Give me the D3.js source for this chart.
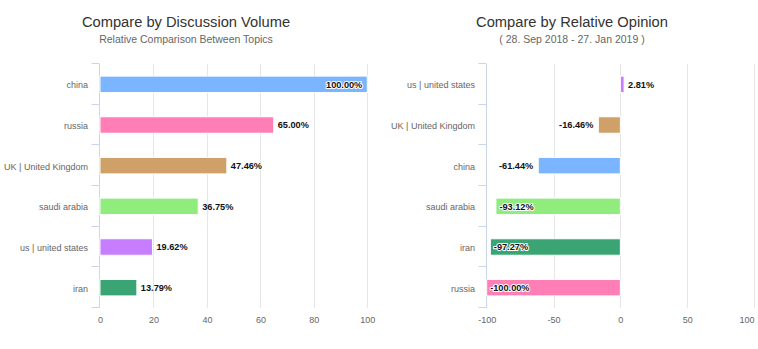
<!DOCTYPE html>
<html>
<head>
<meta charset="utf-8">
<script src="https://cdn.jsdelivr.net/npm/d3@7"></script>
<style>
  html, body { margin: 0; padding: 0; background: #fff; }
  svg { display: block; font-family: "Liberation Sans", Arial, Helvetica, sans-serif; }
</style>
</head>
<body>
<svg id="chart" width="758" height="349"></svg>
<script>
// ---- Data ----
const volumeCategories = ["china", "russia", "UK | United Kingdom", "saudi arabia", "us | united states", "iran"];
const volumeValues = [100.00, 65.00, 47.46, 36.75, 19.62, 13.79];
const volumeTicks = [0, 20, 40, 60, 80, 100];

const opinionCategories = ["us | united states", "UK | United Kingdom", "china", "saudi arabia", "iran", "russia"];
const opinionValues = [2.81, -16.46, -61.44, -93.12, -97.27, -100.00];
const opinionTicks = [-100, -50, 0, 50, 100];

const topicColors = {
  "china": "#7cb5ff",
  "russia": "#ff7eb6",
  "UK | United Kingdom": "#cfa068",
  "saudi arabia": "#90ed7d",
  "us | united states": "#c77dff",
  "iran": "#3ba474"
};

const titles = [
  { title: "Compare by Discussion Volume", subtitle: "Relative Comparison Between Topics" },
  { title: "Compare by Relative Opinion", subtitle: "( 28. Sep 2018 - 27. Jan 2019 )" }
];

// ---- Drawing ----
const svg = d3.select("#chart");
const FONT = "Liberation Sans, Arial, sans-serif";

function drawPanel(cfg) {
  const g = svg.append("g");
  const x = d3.scaleLinear().domain(cfg.domain).range([cfg.left, cfg.right]);
  const y = d3.scaleBand().domain(cfg.categories).range([cfg.top, cfg.bottom])
    .paddingInner(0.595).paddingOuter(0.2975);
  const step = y.step();

  // title
  g.append("text").attr("x", cfg.titleX).attr("y", 27).attr("text-anchor", "middle")
    .attr("font-size", 14.7).attr("fill", "#333").text(cfg.title);
  g.append("text").attr("x", cfg.titleX).attr("y", 43.3).attr("text-anchor", "middle")
    .attr("font-size", 10.5).attr("fill", "#666").text(cfg.subtitle);

  // grid
  g.append("g").selectAll("line").data(cfg.ticks.filter(t => t !== cfg.domain[0])).join("line")
    .attr("x1", d => Math.round(x(d)) + 0.5).attr("x2", d => Math.round(x(d)) + 0.5)
    .attr("y1", cfg.top).attr("y2", cfg.bottom)
    .attr("stroke", "#e6e6e6").attr("stroke-width", 1);

  // x axis labels
  const xAxis = d3.axisBottom(x).tickValues(cfg.ticks).tickSize(0).tickPadding(0)
    .tickFormat(d => String(d));
  const xg = g.append("g").attr("transform", `translate(0,323.3)`).call(xAxis);
  xg.select(".domain").remove();
  xg.selectAll("text").attr("font-size", 9).attr("fill", "#666").attr("dy", 0)
    .attr("font-family", FONT);
  // keep the last label inside the chart edge
  xg.selectAll(".tick").each(function(d) {
    const t = d3.select(this).select("text");
    const w = t.node().getComputedTextLength();
    if (x(d) + w / 2 > 756) t.attr("text-anchor", "end").attr("x", 754 - x(d));
  });

  // y axis line and ticks
  const axisX = Math.round(x(cfg.domain[0])) - 0.5;
  g.append("line").attr("x1", axisX).attr("x2", axisX).attr("y1", cfg.top).attr("y2", cfg.bottom)
    .attr("stroke", "#ccd6eb").attr("stroke-width", 1);
  const bounds = d3.range(cfg.categories.length + 1).map(i => cfg.top + i * step);
  g.append("g").selectAll("line").data(bounds).join("line")
    .attr("x1", axisX - 8).attr("x2", axisX)
    .attr("y1", d => Math.round(d) - 0.5).attr("y2", d => Math.round(d) - 0.5)
    .attr("stroke", "#ccd6eb").attr("stroke-width", 1);

  // category labels
  const yAxis = d3.axisLeft(y).tickSize(0).tickPadding(0);
  const yg = g.append("g").attr("transform", `translate(${axisX - 11.5},0)`).call(yAxis);
  yg.select(".domain").remove();
  yg.selectAll("text").attr("font-size", 9).attr("fill", "#666").attr("dy", "0.45em")
    .attr("font-family", FONT);

  // bars
  const data = cfg.categories.map((c, i) => ({ c, v: cfg.values[i] }));
  g.append("g").selectAll("rect").data(data).join("rect")
    .attr("x", d => Math.min(x(0), x(d.v)))
    .attr("y", d => y(d.c))
    .attr("width", d => Math.abs(x(d.v) - x(0)))
    .attr("height", y.bandwidth())
    .attr("fill", d => topicColors[d.c])
    .attr("stroke", "#fff").attr("stroke-width", 1);

  // data labels
  const lbl = g.append("g").selectAll("text").data(data).join("text")
    .attr("font-size", 9.2).attr("font-weight", "bold")
    .attr("y", d => y(d.c) + y.bandwidth() / 2 + 3.3)
    .text(d => d.v.toFixed(2) + "%");
  lbl.each(function(d) {
    const w = this.getComputedTextLength();
    const end = x(d.v);
    const sel = d3.select(this);
    let inside = false;
    if (d.v >= 0) {
      if (end + 4 + w > cfg.right) { inside = true; sel.attr("x", end - 5).attr("text-anchor", "end"); }
      else sel.attr("x", end + 4).attr("text-anchor", "start");
    } else {
      if (end - 5 - w < cfg.left) { inside = true; sel.attr("x", end + 3.5).attr("text-anchor", "start"); }
      else sel.attr("x", end - 5).attr("text-anchor", "end");
    }
    sel.attr("fill", "#111");
    if (inside) {
      sel.attr("stroke", "#fff").attr("stroke-width", 2).attr("stroke-linejoin", "round")
        .attr("paint-order", "stroke");
    }
  });
}

drawPanel({
  categories: volumeCategories, values: volumeValues, ticks: volumeTicks,
  domain: [0, 100], left: 100, right: 367.3, top: 64, bottom: 308,
  titleX: 186, title: titles[0].title, subtitle: titles[0].subtitle
});
drawPanel({
  categories: opinionCategories, values: opinionValues, ticks: opinionTicks,
  domain: [-100, 100], left: 486.7, right: 754, top: 64, bottom: 308,
  titleX: 572, title: titles[1].title, subtitle: titles[1].subtitle
});
</script>
</body>
</html>
